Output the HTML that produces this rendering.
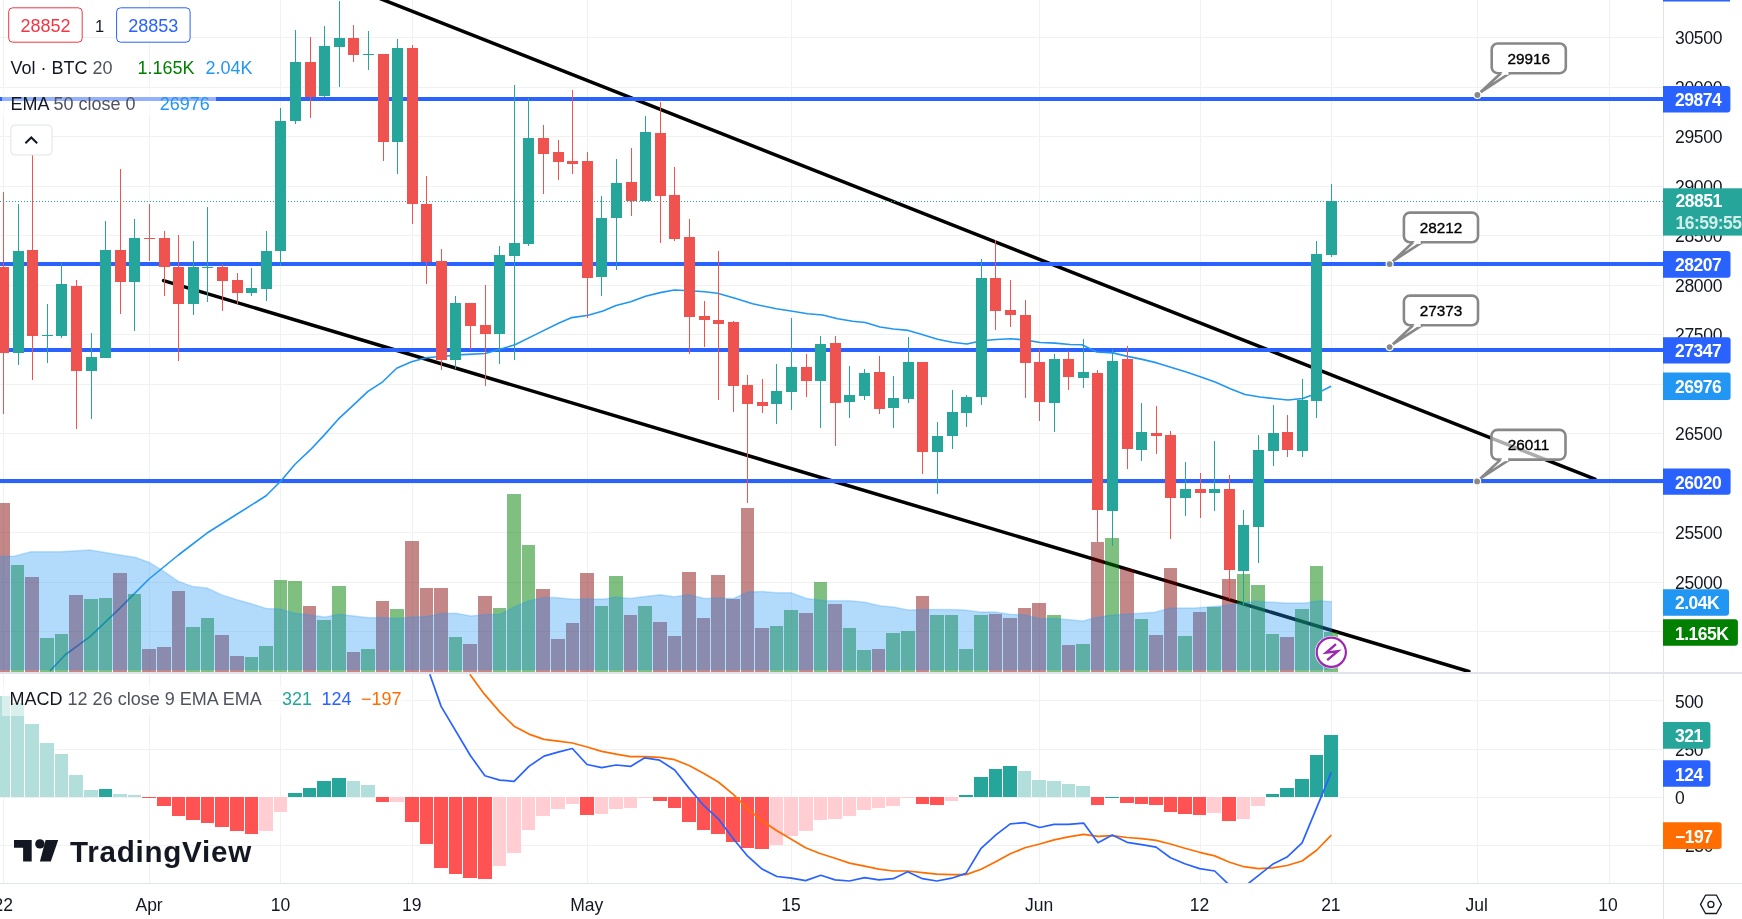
<!DOCTYPE html><html><head><meta charset="utf-8"><title>BTC chart</title><style>html,body{margin:0;padding:0;background:#fff;overflow:hidden;width:1742px;height:919px}svg{display:block;will-change:transform}text{font-family:"Liberation Sans", sans-serif}</style></head><body><svg width="1742" height="919" viewBox="0 0 1742 919"><defs><clipPath id="cm"><rect x="0" y="0" width="1663" height="672"/></clipPath><clipPath id="cd"><rect x="0" y="674" width="1663" height="209"/></clipPath></defs><rect width="1742" height="919" fill="#fff"/><path d="M0 37.5 H1663 M0 87.5 H1663 M0 136.5 H1663 M0 186.5 H1663 M0 235.5 H1663 M0 285.5 H1663 M0 334.5 H1663 M0 384.5 H1663 M0 433.5 H1663 M0 483.5 H1663 M0 532.5 H1663 M0 582.5 H1663 M0 631.5 H1663 M0 700.5 H1663 M0 749.5 H1663 M0 797.5 H1663 M0 845.5 H1663 M3.5 0 V672 M3.5 674 V883 M149.5 0 V672 M149.5 674 V883 M280.5 0 V672 M280.5 674 V883 M412.5 0 V672 M412.5 674 V883 M587.5 0 V672 M587.5 674 V883 M791.5 0 V672 M791.5 674 V883 M1039.5 0 V672 M1039.5 674 V883 M1200.5 0 V672 M1200.5 674 V883 M1331.5 0 V672 M1331.5 674 V883 M1477.5 0 V672 M1477.5 674 V883 M1609.5 0 V672 M1609.5 674 V883" stroke="#f0f2f2" stroke-width="1" fill="none"/><g clip-path="url(#cm)"><line x1="370" y1="-5.4" x2="1595" y2="479.1" stroke="#000" stroke-width="3.5" stroke-linecap="round"/><line x1="163.6" y1="280.6" x2="1468.9" y2="671.5" stroke="#000" stroke-width="3.5" stroke-linecap="round"/><rect x="0" y="97" width="1663" height="4" fill="#2962ff"/><rect x="0" y="262" width="1663" height="4" fill="#2962ff"/><rect x="0" y="348" width="1663" height="4" fill="#2962ff"/><rect x="0" y="479" width="1663" height="4" fill="#2962ff"/><line x1="0" y1="201.5" x2="1663" y2="201.5" stroke="#26a69a" stroke-width="1" stroke-dasharray="1 2"/><polyline points="50,671 65,655 90,636.7 119.7,608.4 149,579 178.4,555 206.7,533.3 236,514.8 266.1,495.8 280.9,481 294.8,464.5 310.5,449.7 324.4,434.9 338.3,419.2 353.1,405.3 368,391.4 382.7,381.8 396.7,368.2 411.5,361.8 425.4,357.9 434.8,357 462.7,354.6 485.4,353.5 515,344.8 535.9,334.4 558.5,323.2 571.8,317.6 588.2,315.2 603,311 616,305.5 630.7,301.8 645.5,296.3 660.2,292.6 674.3,290 689.8,290.7 704.6,291.8 717.5,293.3 734.2,298.1 752.6,303.8 776.4,308.8 792.6,311.3 807.7,313.8 822.7,315 837.7,318.8 852.7,321.3 865.2,322.5 880,327 893.5,329 908.2,330.4 922.9,334.8 937.5,339.3 952.2,342.2 966.9,344 981.6,340.7 996.3,339.5 1011,338.7 1025.7,340.1 1040.3,342.5 1055,343.1 1070,344.5 1082,344.7 1096.7,352 1112.9,352.9 1127.5,356.4 1142.2,359.4 1156.9,362.9 1171.6,367.6 1186.3,372 1201,377 1215.7,382.3 1230.3,388.7 1245,394.5 1260,397 1273.4,398.5 1288,400 1302.7,398.5 1316.4,393.6 1331.1,386.3" fill="none" stroke="#2196f3" stroke-width="1.6" stroke-linejoin="round"/><g fill="#800000" fill-opacity="0.47"><rect x="-3" y="503" width="13" height="169"/><rect x="25" y="577" width="14" height="95"/><rect x="69" y="595" width="14" height="77"/><rect x="113" y="573" width="14" height="99"/><rect x="142" y="649" width="14" height="23"/><rect x="157" y="647" width="14" height="25"/><rect x="172" y="591" width="13" height="81"/><rect x="215" y="635" width="14" height="37"/><rect x="230" y="656" width="14" height="16"/><rect x="303" y="606" width="13" height="66"/><rect x="347" y="652" width="13" height="20"/><rect x="376" y="601" width="13" height="71"/><rect x="405" y="541" width="14" height="131"/><rect x="420" y="588" width="13" height="84"/><rect x="434" y="588" width="14" height="84"/><rect x="463" y="644" width="14" height="28"/><rect x="478" y="596" width="14" height="76"/><rect x="536" y="589" width="14" height="83"/><rect x="551" y="639" width="14" height="33"/><rect x="566" y="623" width="13" height="49"/><rect x="580" y="573" width="14" height="99"/><rect x="624" y="615" width="13" height="57"/><rect x="653" y="622" width="14" height="50"/><rect x="668" y="636" width="13" height="36"/><rect x="682" y="572" width="14" height="100"/><rect x="697" y="618" width="13" height="54"/><rect x="711" y="575" width="14" height="97"/><rect x="726" y="599" width="14" height="73"/><rect x="741" y="508" width="13" height="164"/><rect x="755" y="628" width="14" height="44"/><rect x="799" y="613" width="14" height="59"/><rect x="828" y="604" width="14" height="68"/><rect x="872" y="649" width="13" height="23"/><rect x="916" y="596" width="13" height="76"/><rect x="989" y="614" width="13" height="58"/><rect x="1003" y="618" width="14" height="54"/><rect x="1018" y="608" width="13" height="64"/><rect x="1032" y="603" width="14" height="69"/><rect x="1062" y="645" width="13" height="27"/><rect x="1091" y="542" width="13" height="130"/><rect x="1120" y="569" width="14" height="103"/><rect x="1149" y="635" width="14" height="37"/><rect x="1164" y="568" width="13" height="104"/><rect x="1193" y="612" width="13" height="60"/><rect x="1222" y="579" width="14" height="93"/><rect x="1280" y="637" width="14" height="35"/></g><g fill="#008000" fill-opacity="0.5"><rect x="11" y="565" width="13" height="107"/><rect x="40" y="638" width="14" height="34"/><rect x="55" y="634" width="13" height="38"/><rect x="84" y="599" width="14" height="73"/><rect x="99" y="598" width="13" height="74"/><rect x="128" y="594" width="13" height="78"/><rect x="186" y="627" width="14" height="45"/><rect x="201" y="618" width="13" height="54"/><rect x="245" y="657" width="13" height="15"/><rect x="259" y="646" width="14" height="26"/><rect x="274" y="580" width="13" height="92"/><rect x="288" y="581" width="14" height="91"/><rect x="317" y="620" width="14" height="52"/><rect x="332" y="586" width="14" height="86"/><rect x="361" y="649" width="14" height="23"/><rect x="390" y="609" width="14" height="63"/><rect x="449" y="637" width="13" height="35"/><rect x="493" y="608" width="13" height="64"/><rect x="507" y="494" width="14" height="178"/><rect x="522" y="545" width="13" height="127"/><rect x="595" y="606" width="13" height="66"/><rect x="609" y="576" width="14" height="96"/><rect x="638" y="606" width="14" height="66"/><rect x="770" y="626" width="13" height="46"/><rect x="784" y="610" width="14" height="62"/><rect x="814" y="582" width="13" height="90"/><rect x="843" y="628" width="13" height="44"/><rect x="857" y="650" width="14" height="22"/><rect x="886" y="633" width="14" height="39"/><rect x="901" y="631" width="14" height="41"/><rect x="930" y="615" width="14" height="57"/><rect x="945" y="615" width="13" height="57"/><rect x="959" y="649" width="14" height="23"/><rect x="974" y="615" width="14" height="57"/><rect x="1047" y="615" width="14" height="57"/><rect x="1076" y="644" width="14" height="28"/><rect x="1105" y="538" width="14" height="134"/><rect x="1135" y="619" width="13" height="53"/><rect x="1178" y="636" width="14" height="36"/><rect x="1207" y="607" width="14" height="65"/><rect x="1237" y="574" width="13" height="98"/><rect x="1251" y="585" width="14" height="87"/><rect x="1266" y="634" width="13" height="38"/><rect x="1295" y="609" width="14" height="63"/><rect x="1310" y="566" width="13" height="106"/><rect x="1324" y="632" width="14" height="40"/></g><polygon points="0,556.6 15,556 31,551.8 60,551.8 90,550 120,555 135,557.2 149,562.2 164,571.4 178,581.2 193,586.6 207,588.1 222,594.9 237,599.7 251,603.6 266,608.4 280,609 295,613.2 310,614.9 325,617 339,614.2 354,616 369,617.7 383,617.5 398,618.4 412,617 427,616.4 441,613.4 456,613.2 471,616 486,614.5 500,614.2 515,606.6 529,600.8 544,597.5 555,597.5 573,599.2 590,599 605,599 616,597 630,598.6 645,596.4 660,594.7 674,596.8 689,594.7 705,598.6 718,597.9 733,598.6 748,592 762,591.4 777,592.7 791,592.7 807,598.6 825,600.8 850,600.8 865,602.3 880,605.8 895,607.3 908,610.1 925,609.5 950,609.5 965,610.1 980,612.1 995,612.1 1010,614.2 1025,614.9 1040,618.8 1055,618.6 1070,619.7 1083,621 1093,618.2 1110,615.3 1140,613.2 1155,612.3 1170,607.9 1195,607.9 1225,605.5 1255,601.2 1285,602.9 1305,602.9 1320,600.8 1332,601.8 1332,670 0,670" fill="#2196f3" fill-opacity="0.35"/><polyline points="0,556.6 15,556 31,551.8 60,551.8 90,550 120,555 135,557.2 149,562.2 164,571.4 178,581.2 193,586.6 207,588.1 222,594.9 237,599.7 251,603.6 266,608.4 280,609 295,613.2 310,614.9 325,617 339,614.2 354,616 369,617.7 383,617.5 398,618.4 412,617 427,616.4 441,613.4 456,613.2 471,616 486,614.5 500,614.2 515,606.6 529,600.8 544,597.5 555,597.5 573,599.2 590,599 605,599 616,597 630,598.6 645,596.4 660,594.7 674,596.8 689,594.7 705,598.6 718,597.9 733,598.6 748,592 762,591.4 777,592.7 791,592.7 807,598.6 825,600.8 850,600.8 865,602.3 880,605.8 895,607.3 908,610.1 925,609.5 950,609.5 965,610.1 980,612.1 995,612.1 1010,614.2 1025,614.9 1040,618.8 1055,618.6 1070,619.7 1083,621 1093,618.2 1110,615.3 1140,613.2 1155,612.3 1170,607.9 1195,607.9 1225,605.5 1255,601.2 1285,602.9 1305,602.9 1320,600.8 1332,601.8" fill="none" stroke="#2196f3" stroke-opacity="0.25" stroke-width="1.5"/><path d="M3.5 192 V414 M32.5 148 V380 M76.5 280 V429 M120.5 169 V314 M149.5 204 V261 M164.5 231 V296 M178.5 235 V361 M222.5 264 V311 M237.5 273 V304 M310.5 37 V118 M353.5 25 V62 M383.5 54 V161 M412.5 45 V224 M426.5 176 V284 M441.5 249 V370 M470.5 303 V350 M485.5 285 V386 M543.5 125 V194 M558.5 140 V180 M572.5 90 V174 M587.5 152 V318 M631.5 148 V216 M660.5 102 V243 M674.5 167 V241 M689.5 219 V354 M704.5 301 V347 M718.5 251 V400 M733.5 321 V412 M747.5 375 V503 M762.5 379 V413 M806.5 354 V397 M835.5 336 V446 M879.5 356 V414 M922.5 362 V474 M995.5 240 V330 M1010.5 280 V327 M1025.5 300 V398 M1039.5 349 V421 M1068.5 351 V390 M1097.5 370 V542 M1127.5 346 V469 M1156.5 406 V454 M1170.5 431 V539 M1200.5 473 V518 M1229.5 475 V599 M1287.5 415 V457" stroke="#ef5350" stroke-width="1" fill="none"/><path d="M18.5 204 V365 M47.5 304 V363 M61.5 263 V338 M91.5 333 V419 M105.5 221 V358 M134.5 219 V331 M193.5 241 V315 M207.5 207 V302 M251.5 268 V296 M266.5 231 V301 M280.5 108 V266 M295.5 30 V124 M324.5 26 V97 M339.5 1 V87 M368.5 31 V70 M397.5 39 V174 M455.5 296 V369 M499.5 246 V364 M514.5 85 V360 M528.5 98 V246 M601.5 196 V296 M616.5 159 V270 M645.5 116 V202 M776.5 364 V424 M791.5 318 V410 M820.5 336 V428 M849.5 366 V418 M864.5 369 V400 M893.5 376 V428 M908.5 337 V403 M937.5 422 V494 M952.5 390 V449 M966.5 395 V427 M981.5 259 V405 M1054.5 354 V432 M1083.5 339 V388 M1112.5 349 V546 M1141.5 403 V461 M1185.5 462 V516 M1214.5 441 V511 M1243.5 510 V605 M1258.5 435 V563 M1273.5 405 V466 M1302.5 379 V457 M1316.5 241 V418 M1331.5 184 V257" stroke="#26a69a" stroke-width="1" fill="none"/><g fill="#ef5350"><rect x="-2" y="267" width="11" height="86"/><rect x="27" y="250" width="11" height="86"/><rect x="71" y="286" width="11" height="85"/><rect x="115" y="250" width="11" height="32"/><rect x="144" y="238" width="11" height="1"/><rect x="159" y="238" width="11" height="29"/><rect x="173" y="267" width="11" height="37"/><rect x="217" y="267" width="11" height="14"/><rect x="232" y="280" width="11" height="13"/><rect x="305" y="62" width="11" height="35"/><rect x="348" y="38" width="11" height="17"/><rect x="378" y="54" width="11" height="88"/><rect x="407" y="48" width="11" height="156"/><rect x="421" y="204" width="11" height="58"/><rect x="436" y="261" width="11" height="99"/><rect x="465" y="303" width="11" height="23"/><rect x="480" y="325" width="11" height="9"/><rect x="538" y="138" width="11" height="16"/><rect x="553" y="152" width="11" height="10"/><rect x="567" y="161" width="11" height="3"/><rect x="582" y="161" width="11" height="117"/><rect x="626" y="182" width="11" height="19"/><rect x="655" y="133" width="11" height="63"/><rect x="669" y="195" width="11" height="44"/><rect x="684" y="237" width="11" height="80"/><rect x="699" y="316" width="11" height="4"/><rect x="713" y="320" width="11" height="4"/><rect x="728" y="322" width="11" height="64"/><rect x="742" y="385" width="11" height="19"/><rect x="757" y="402" width="11" height="4"/><rect x="801" y="367" width="11" height="14"/><rect x="830" y="343" width="11" height="60"/><rect x="874" y="372" width="11" height="37"/><rect x="917" y="362" width="11" height="90"/><rect x="990" y="278" width="11" height="33"/><rect x="1005" y="310" width="11" height="5"/><rect x="1020" y="315" width="11" height="48"/><rect x="1034" y="362" width="11" height="40"/><rect x="1063" y="359" width="11" height="18"/><rect x="1092" y="373" width="11" height="137"/><rect x="1122" y="359" width="11" height="90"/><rect x="1151" y="433" width="11" height="3"/><rect x="1165" y="435" width="11" height="63"/><rect x="1195" y="489" width="11" height="4"/><rect x="1224" y="489" width="11" height="81"/><rect x="1282" y="432" width="11" height="18"/></g><g fill="#26a69a"><rect x="13" y="251" width="11" height="102"/><rect x="42" y="335" width="11" height="1"/><rect x="56" y="284" width="11" height="52"/><rect x="86" y="357" width="11" height="14"/><rect x="100" y="250" width="11" height="108"/><rect x="129" y="238" width="11" height="44"/><rect x="188" y="267" width="11" height="37"/><rect x="202" y="267" width="11" height="1"/><rect x="246" y="288" width="11" height="5"/><rect x="261" y="251" width="11" height="38"/><rect x="275" y="121" width="11" height="130"/><rect x="290" y="62" width="11" height="59"/><rect x="319" y="46" width="11" height="50"/><rect x="334" y="38" width="11" height="9"/><rect x="363" y="54" width="11" height="1"/><rect x="392" y="48" width="11" height="94"/><rect x="450" y="303" width="11" height="57"/><rect x="494" y="255" width="11" height="79"/><rect x="509" y="243" width="11" height="13"/><rect x="523" y="138" width="11" height="106"/><rect x="596" y="218" width="11" height="59"/><rect x="611" y="183" width="11" height="35"/><rect x="640" y="132" width="11" height="69"/><rect x="771" y="391" width="11" height="13"/><rect x="786" y="367" width="11" height="25"/><rect x="815" y="344" width="11" height="37"/><rect x="844" y="395" width="11" height="7"/><rect x="859" y="373" width="11" height="23"/><rect x="888" y="398" width="11" height="10"/><rect x="903" y="362" width="11" height="37"/><rect x="932" y="436" width="11" height="16"/><rect x="947" y="412" width="11" height="24"/><rect x="961" y="397" width="11" height="16"/><rect x="976" y="278" width="11" height="119"/><rect x="1049" y="359" width="11" height="44"/><rect x="1078" y="372" width="11" height="6"/><rect x="1107" y="361" width="11" height="150"/><rect x="1136" y="432" width="11" height="18"/><rect x="1180" y="489" width="11" height="9"/><rect x="1209" y="489" width="11" height="4"/><rect x="1238" y="525" width="11" height="46"/><rect x="1253" y="450" width="11" height="77"/><rect x="1268" y="433" width="11" height="18"/><rect x="1297" y="400" width="11" height="51"/><rect x="1311" y="254" width="11" height="147"/><rect x="1326" y="201" width="11" height="54"/></g><rect x="1491.7" y="43.5" width="74.1" height="29.7" rx="6" fill="#fff" fill-opacity="0.68" stroke="#888" stroke-width="2.6"/><path d="M1500.9 73.2 L1480.4 92.3 L1509.7 73.2" fill="#fff" stroke="#888" stroke-width="2.6" stroke-linejoin="miter" stroke-miterlimit="10"/><rect x="1502.1" y="71.6" width="6.4" height="3.2" fill="#fff"/><circle cx="1477.4" cy="95" r="4.1" fill="#fff"/><circle cx="1477.4" cy="95" r="2.9" fill="#888"/><text x="1528.75" y="63.65" font-size="15.3" fill="#000" stroke="#000" stroke-width="0.35" text-anchor="middle">29916</text><rect x="1403.9" y="212.6" width="74.1" height="29.7" rx="6" fill="#fff" fill-opacity="0.68" stroke="#888" stroke-width="2.6"/><path d="M1413.1 242.3 L1392.6 261.4 L1421.9 242.3" fill="#fff" stroke="#888" stroke-width="2.6" stroke-linejoin="miter" stroke-miterlimit="10"/><rect x="1414.3" y="240.7" width="6.4" height="3.2" fill="#fff"/><circle cx="1389.6" cy="264.1" r="4.1" fill="#fff"/><circle cx="1389.6" cy="264.1" r="2.9" fill="#888"/><text x="1440.95" y="232.75" font-size="15.3" fill="#000" stroke="#000" stroke-width="0.35" text-anchor="middle">28212</text><rect x="1403.9" y="295.6" width="74.1" height="29.7" rx="6" fill="#fff" fill-opacity="0.68" stroke="#888" stroke-width="2.6"/><path d="M1413.1 325.3 L1392.6 344.4 L1421.9 325.3" fill="#fff" stroke="#888" stroke-width="2.6" stroke-linejoin="miter" stroke-miterlimit="10"/><rect x="1414.3" y="323.7" width="6.4" height="3.2" fill="#fff"/><circle cx="1389.6" cy="347.1" r="4.1" fill="#fff"/><circle cx="1389.6" cy="347.1" r="2.9" fill="#888"/><text x="1440.95" y="315.75" font-size="15.3" fill="#000" stroke="#000" stroke-width="0.35" text-anchor="middle">27373</text><rect x="1491.4" y="429.9" width="74.1" height="29.7" rx="6" fill="#fff" fill-opacity="0.68" stroke="#888" stroke-width="2.6"/><path d="M1500.6 459.6 L1480.1 478.7 L1509.4 459.6" fill="#fff" stroke="#888" stroke-width="2.6" stroke-linejoin="miter" stroke-miterlimit="10"/><rect x="1501.8" y="458" width="6.4" height="3.2" fill="#fff"/><circle cx="1477.1" cy="481.4" r="4.1" fill="#fff"/><circle cx="1477.1" cy="481.4" r="2.9" fill="#888"/><text x="1528.45" y="450.05" font-size="15.3" fill="#000" stroke="#000" stroke-width="0.35" text-anchor="middle">26011</text><circle cx="1331.3" cy="652.3" r="16.3" fill="#fff"/><circle cx="1331.3" cy="652.3" r="14.6" fill="#fff" stroke="#9c27b0" stroke-width="2.2"/><path d="M1336 644.2 L1326.2 652.6 L1337.8 651.2 L1327.2 660.2" fill="none" stroke="#9c27b0" stroke-width="2.4" stroke-linejoin="miter" stroke-miterlimit="10"/></g><g clip-path="url(#cd)"><g fill="#b2dfdb"><rect x="-3" y="696" width="13" height="101"/><rect x="11" y="703" width="13" height="94"/><rect x="25" y="724" width="14" height="73"/><rect x="40" y="743" width="14" height="54"/><rect x="55" y="754" width="13" height="43"/><rect x="69" y="775" width="14" height="22"/><rect x="84" y="790" width="14" height="7"/><rect x="113" y="794" width="14" height="3"/><rect x="128" y="795" width="13" height="2"/><rect x="347" y="781" width="13" height="16"/><rect x="361" y="785" width="14" height="12"/><rect x="1018" y="771" width="13" height="26"/><rect x="1032" y="780" width="14" height="17"/><rect x="1047" y="781" width="14" height="16"/><rect x="1062" y="784" width="13" height="13"/><rect x="1076" y="786" width="14" height="11"/></g><g fill="#26a69a"><rect x="99" y="789" width="13" height="8"/><rect x="288" y="793" width="14" height="4"/><rect x="303" y="788" width="13" height="9"/><rect x="317" y="781" width="14" height="16"/><rect x="332" y="778" width="14" height="19"/><rect x="959" y="795" width="14" height="2"/><rect x="974" y="777" width="14" height="20"/><rect x="989" y="769" width="13" height="28"/><rect x="1003" y="766" width="14" height="31"/><rect x="1105" y="797" width="14" height="1"/><rect x="1266" y="794" width="13" height="3"/><rect x="1280" y="788" width="14" height="9"/><rect x="1295" y="779" width="14" height="18"/><rect x="1310" y="755" width="13" height="42"/><rect x="1324" y="735" width="14" height="62"/></g><g fill="#ff5252"><rect x="142" y="797" width="14" height="1"/><rect x="157" y="797" width="14" height="9"/><rect x="172" y="797" width="13" height="19"/><rect x="186" y="797" width="14" height="23"/><rect x="201" y="797" width="13" height="26"/><rect x="215" y="797" width="14" height="30"/><rect x="230" y="797" width="14" height="34"/><rect x="245" y="797" width="13" height="37"/><rect x="376" y="797" width="13" height="5"/><rect x="405" y="797" width="14" height="25"/><rect x="420" y="797" width="13" height="47"/><rect x="434" y="797" width="14" height="71"/><rect x="449" y="797" width="13" height="77"/><rect x="463" y="797" width="14" height="81"/><rect x="478" y="797" width="14" height="82"/><rect x="580" y="797" width="14" height="18"/><rect x="653" y="797" width="14" height="4"/><rect x="668" y="797" width="13" height="11"/><rect x="682" y="797" width="14" height="25"/><rect x="697" y="797" width="13" height="33"/><rect x="711" y="797" width="14" height="37"/><rect x="726" y="797" width="14" height="45"/><rect x="741" y="797" width="13" height="51"/><rect x="755" y="797" width="14" height="52"/><rect x="916" y="797" width="13" height="7"/><rect x="930" y="797" width="14" height="8"/><rect x="1091" y="797" width="13" height="8"/><rect x="1120" y="797" width="14" height="6"/><rect x="1135" y="797" width="13" height="7"/><rect x="1149" y="797" width="14" height="8"/><rect x="1164" y="797" width="13" height="15"/><rect x="1178" y="797" width="14" height="17"/><rect x="1193" y="797" width="13" height="18"/><rect x="1222" y="797" width="14" height="24"/></g><g fill="#ffcdd2"><rect x="259" y="797" width="14" height="34"/><rect x="274" y="797" width="13" height="15"/><rect x="390" y="797" width="14" height="5"/><rect x="493" y="797" width="13" height="69"/><rect x="507" y="797" width="14" height="56"/><rect x="522" y="797" width="13" height="33"/><rect x="536" y="797" width="14" height="19"/><rect x="551" y="797" width="14" height="12"/><rect x="566" y="797" width="13" height="7"/><rect x="595" y="797" width="13" height="17"/><rect x="609" y="797" width="14" height="12"/><rect x="624" y="797" width="13" height="11"/><rect x="638" y="797" width="14" height="1"/><rect x="770" y="797" width="13" height="48"/><rect x="784" y="797" width="14" height="39"/><rect x="799" y="797" width="14" height="34"/><rect x="814" y="797" width="13" height="23"/><rect x="828" y="797" width="14" height="22"/><rect x="843" y="797" width="13" height="19"/><rect x="857" y="797" width="14" height="13"/><rect x="872" y="797" width="13" height="11"/><rect x="886" y="797" width="14" height="9"/><rect x="901" y="797" width="14" height="1"/><rect x="945" y="797" width="13" height="4"/><rect x="1207" y="797" width="14" height="16"/><rect x="1237" y="797" width="13" height="22"/><rect x="1251" y="797" width="14" height="9"/></g><polyline points="469.8,674.3 484.2,693.9 499.7,711.9 514.1,726.2 528.9,734.1 544,739.4 558,741.1 572.3,743 587.1,747 601.7,751.4 616.1,754.2 630.5,756.6 644.8,756.6 659.6,757.3 674.7,759.7 689.6,765.7 703.9,773.4 718.3,782 733.3,794.4 747.7,808.8 762.1,820.8 776.9,830.8 791.3,839.2 805.6,847.8 820,853.5 835.1,858.3 849.5,863.1 864.6,866.2 878.9,869.1 893.3,871 907.6,871 922.5,872.7 936.8,874.1 951.7,874.6 966,874.6 981.1,869.3 996.2,861.4 1010.3,853.8 1024.9,847.8 1039.7,844 1054.1,839.9 1068.4,836.8 1083.6,834.4 1098,836.3 1112.3,835.6 1127.1,837.5 1141.7,838.7 1156.1,840.4 1170.5,844 1184.8,848.3 1199.6,852.3 1214.7,855.9 1229.6,862.2 1243.9,866.7 1258.3,868.6 1272.6,867.9 1287,865.5 1302.1,861 1316.9,850 1331.3,835.1" fill="none" stroke="#ff6d00" stroke-width="1.7" stroke-linejoin="round"/><polyline points="429.8,674.3 441.1,706.4 470.5,755.7 484.9,775.8 499.7,780.1 514.1,781.3 528.9,766.4 544,756.1 558,752.1 572.3,748.5 587.1,764.5 601.7,767.6 616.1,765 630.5,766.4 644.8,757.8 659.6,760.2 674.7,770 689.6,788.9 703.9,805.7 718.3,818.8 733.3,838.7 747.7,856.2 762.1,869.1 776.9,876.5 791.3,878.2 805.6,880.6 820.8,875.3 835.1,879.9 849.5,881 864.6,877.7 878.9,879.9 893.3,878.7 907.6,871.7 922.5,878.7 936.8,881 951.7,878.2 966,873.4 981.1,848.3 996.2,834.6 1010.3,823.9 1024.9,822.7 1039.7,827.5 1054.1,824.3 1068.4,824.3 1083.6,823.1 1098,842.8 1112.3,835.1 1127.1,842.3 1141.7,844.7 1156.1,847.1 1170.5,857.8 1184.8,863.8 1199.6,868.6 1214.7,871 1229.3,885 1243.9,887 1258.3,875.6 1272.6,864.3 1287,857.1 1302.1,842.8 1331.3,772.4" fill="none" stroke="#2962ff" stroke-width="1.7" stroke-linejoin="round"/></g><rect x="0" y="672" width="1742" height="2" fill="#e0e3eb"/><rect x="0" y="883" width="1742" height="1" fill="#e0e3eb"/><rect x="1663" y="0" width="1" height="919" fill="#e0e3eb"/><text x="1675" y="44.3" font-size="17.5" fill="#131722" letter-spacing="-0.3">30500</text><text x="1675" y="94.3" font-size="17.5" fill="#131722" letter-spacing="-0.3">30000</text><text x="1675" y="143.3" font-size="17.5" fill="#131722" letter-spacing="-0.3">29500</text><text x="1675" y="193.3" font-size="17.5" fill="#131722" letter-spacing="-0.3">29000</text><text x="1675" y="242.3" font-size="17.5" fill="#131722" letter-spacing="-0.3">28500</text><text x="1675" y="292.3" font-size="17.5" fill="#131722" letter-spacing="-0.3">28000</text><text x="1675" y="341.3" font-size="17.5" fill="#131722" letter-spacing="-0.3">27500</text><text x="1675" y="391.3" font-size="17.5" fill="#131722" letter-spacing="-0.3">27000</text><text x="1675" y="440.3" font-size="17.5" fill="#131722" letter-spacing="-0.3">26500</text><text x="1675" y="490.3" font-size="17.5" fill="#131722" letter-spacing="-0.3">26000</text><text x="1675" y="539.3" font-size="17.5" fill="#131722" letter-spacing="-0.3">25500</text><text x="1675" y="589.3" font-size="17.5" fill="#131722" letter-spacing="-0.3">25000</text><text x="1675" y="638.3" font-size="17.5" fill="#131722" letter-spacing="-0.3">24500</text><text x="1675" y="707.5" font-size="17.5" fill="#131722" letter-spacing="-0.3">500</text><text x="1675" y="755.8" font-size="17.5" fill="#131722" letter-spacing="-0.3">250</text><text x="1675" y="804.1" font-size="17.5" fill="#131722" letter-spacing="-0.3">0</text><text x="1675" y="852.4" font-size="17.5" fill="#131722" letter-spacing="-0.3">&#8722;250</text><rect x="1663" y="0" width="67" height="1.5" fill="#2962ff"/><path d="M1663 86.1 H1727.4 Q1730.4 86.1 1730.4 89.1 V109.6 Q1730.4 112.6 1727.4 112.6 H1663 Z" fill="#2962ff"/><text x="1675" y="106.35" font-size="17.5" font-weight="bold" fill="#fff" letter-spacing="-0.5">29874</text><path d="M1663 250.9 H1727.5 Q1730.5 250.9 1730.5 253.9 V274.7 Q1730.5 277.7 1727.5 277.7 H1663 Z" fill="#2962ff"/><text x="1675" y="271.3" font-size="17.5" font-weight="bold" fill="#fff" letter-spacing="-0.5">28207</text><path d="M1663 337.2 H1727.6 Q1730.6 337.2 1730.6 340.2 V360.5 Q1730.6 363.5 1727.6 363.5 H1663 Z" fill="#2962ff"/><text x="1675" y="357.35" font-size="17.5" font-weight="bold" fill="#fff" letter-spacing="-0.5">27347</text><path d="M1663 372.5 H1727.6 Q1730.6 372.5 1730.6 375.5 V396.9 Q1730.6 399.9 1727.6 399.9 H1663 Z" fill="#2196f3"/><text x="1675" y="393.2" font-size="17.5" font-weight="bold" fill="#fff" letter-spacing="-0.5">26976</text><path d="M1663 468.4 H1727.6 Q1730.6 468.4 1730.6 471.4 V491.7 Q1730.6 494.7 1727.6 494.7 H1663 Z" fill="#2962ff"/><text x="1675" y="488.55" font-size="17.5" font-weight="bold" fill="#fff" letter-spacing="-0.5">26020</text><path d="M1663 589.2 H1726 Q1729 589.2 1729 592.2 V612.7 Q1729 615.7 1726 615.7 H1663 Z" fill="#2196f3"/><text x="1675" y="609.45" font-size="17.5" font-weight="bold" fill="#fff" letter-spacing="-0.5">2.04K</text><path d="M1663 619.2 H1734.9 Q1737.9 619.2 1737.9 622.2 V642.8 Q1737.9 645.8 1734.9 645.8 H1663 Z" fill="#008000"/><text x="1675" y="639.5" font-size="17.5" font-weight="bold" fill="#fff" letter-spacing="-0.5">1.165K</text><rect x="1663" y="188.3" width="80" height="47.3" fill="#26a69a"/><text x="1675.5" y="207.2" font-size="17.5" font-weight="bold" fill="#fff" letter-spacing="-0.5">28851</text><text x="1675.5" y="228.7" font-size="17.5" font-weight="bold" fill="#fff" fill-opacity="0.8" letter-spacing="-0.5">16:59:55</text><path d="M1663 722 H1707.4 Q1710.4 722 1710.4 725 V745.7 Q1710.4 748.7 1707.4 748.7 H1663 Z" fill="#26a69a"/><text x="1675" y="742.35" font-size="17.5" font-weight="bold" fill="#fff" letter-spacing="-0.5">321</text><path d="M1663 760.3 H1707.4 Q1710.4 760.3 1710.4 763.3 V783.7 Q1710.4 786.7 1707.4 786.7 H1663 Z" fill="#2962ff"/><text x="1675" y="780.5" font-size="17.5" font-weight="bold" fill="#fff" letter-spacing="-0.5">124</text><path d="M1663 822.2 H1718.6 Q1721.6 822.2 1721.6 825.2 V846 Q1721.6 849 1718.6 849 H1663 Z" fill="#ff6d00"/><text x="1675" y="842.6" font-size="17.5" font-weight="bold" fill="#fff" letter-spacing="-0.5">&#8722;197</text><path d="M1700.5 904.4 L1705.5 895.2 H1716.5 L1721.4 904.4 L1716.5 913.5 H1705.5 Z" fill="none" stroke="#131722" stroke-width="1.3" stroke-linejoin="round"/><circle cx="1710.9" cy="904.4" r="3" fill="none" stroke="#131722" stroke-width="1.3"/><text x="3.2" y="911" font-size="17.5" fill="#131722" text-anchor="middle">22</text><text x="149.1" y="911" font-size="17.5" fill="#131722" text-anchor="middle">Apr</text><text x="280.41" y="911" font-size="17.5" fill="#131722" text-anchor="middle">10</text><text x="411.72" y="911" font-size="17.5" fill="#131722" text-anchor="middle">19</text><text x="586.8" y="911" font-size="17.5" fill="#131722" text-anchor="middle">May</text><text x="791.06" y="911" font-size="17.5" fill="#131722" text-anchor="middle">15</text><text x="1039.09" y="911" font-size="17.5" fill="#131722" text-anchor="middle">Jun</text><text x="1199.58" y="911" font-size="17.5" fill="#131722" text-anchor="middle">12</text><text x="1330.89" y="911" font-size="17.5" fill="#131722" text-anchor="middle">21</text><text x="1476.79" y="911" font-size="17.5" fill="#131722" text-anchor="middle">Jul</text><text x="1608.1" y="911" font-size="17.5" fill="#131722" text-anchor="middle">10</text><rect x="8.7" y="7.8" width="73.5" height="34.4" rx="4" fill="#fff" stroke="#f23645" stroke-width="1"/><text x="45.5" y="31.9" font-size="18" fill="#f23645" text-anchor="middle">28852</text><text x="99.6" y="31.5" font-size="16.5" fill="#131722" text-anchor="middle">1</text><rect x="116.6" y="7.8" width="73.5" height="34.4" rx="4" fill="#fff" stroke="#2962ff" stroke-width="1"/><text x="153.3" y="31.9" font-size="18" fill="#2962ff" text-anchor="middle">28853</text><text x="10.4" y="74" font-size="18" fill="#131722">Vol · BTC <tspan fill="#50535e">20</tspan></text><text x="137.5" y="74" font-size="18" fill="#008000">1.165K</text><text x="205.4" y="74" font-size="18" fill="#2196f3">2.04K</text><rect x="2" y="88" width="214" height="28" fill="#fff" fill-opacity="0.5"/><text x="10.4" y="109.7" font-size="18" fill="#131722">EMA <tspan fill="#50535e">50 close 0</tspan></text><text x="159.8" y="109.7" font-size="18" fill="#2196f3">26976</text><rect x="10.9" y="125" width="41.2" height="30" rx="4" fill="#fff" stroke="#e0e3eb" stroke-width="1"/><path d="M25.4 143.2 L31.3 137.5 L37.2 143.2" fill="none" stroke="#131722" stroke-width="2"/><rect x="2" y="686" width="404" height="30" fill="#fff" fill-opacity="0.5"/><text x="9.6" y="704.8" font-size="18" fill="#131722">MACD <tspan fill="#50535e">12 26 close 9 EMA EMA</tspan></text><text x="282" y="704.8" font-size="18" fill="#26a69a">321</text><text x="321.4" y="704.8" font-size="18" fill="#2962ff">124</text><text x="360.9" y="704.8" font-size="18" fill="#ff6d00">&#8722;197</text><g fill="#131722"><path d="M14 840 H31.7 V861.6 H23.1 V847.8 H14 Z"/><circle cx="39.9" cy="843.9" r="4.7"/><path d="M45.6 840 H58.2 L50.8 861.6 H39.9 Z"/><text x="70" y="861.6" font-size="29.6" font-weight="bold" letter-spacing="0.75">TradingView</text></g></svg></body></html>
